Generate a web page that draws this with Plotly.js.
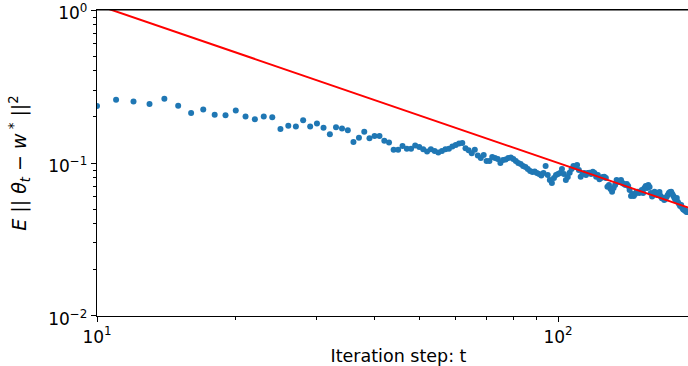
<!DOCTYPE html>
<html>
<head>
<meta charset="utf-8">
<script src="https://cdn.plot.ly/plotly-3.0.1.min.js"></script>
<style>
  html, body { margin: 0; padding: 0; overflow: hidden; background: #fff; width: 688px; height: 366px; }
  #chart { width: 700px; height: 366px; }
</style>
</head>
<body>
<div id="chart"></div>
<script>
// Iteration steps
const steps = [];
for (let t = 10; t <= 192; t++) steps.push(t);

// E||theta_t - w*||^2, one value per step t = 10..192
const errorValues = [
  0.236, 0.259, 0.252, 0.243, 0.263, 0.237, 0.212, 0.224, 0.207, 0.205,   // 10-19
  0.220, 0.201, 0.193, 0.201, 0.199, 0.167, 0.175, 0.173, 0.190, 0.173,   // 20-29
  0.181, 0.170, 0.154, 0.171, 0.168, 0.164, 0.137, 0.146, 0.160, 0.145,   // 30-39
  0.150, 0.150, 0.140, 0.136, 0.122, 0.122, 0.129, 0.124, 0.124, 0.130,   // 40-49
  0.127, 0.123, 0.119, 0.123, 0.120, 0.117, 0.120, 0.123, 0.124, 0.128,   // 50-59
  0.131, 0.134, 0.135, 0.125, 0.121, 0.116, 0.122, 0.112, 0.108, 0.113,   // 60-69
  0.103, 0.1031, 0.1094, 0.1078, 0.1062, 0.1000, 0.1046, 0.1054, 0.1078, 0.1086, // 70-79
  0.1062, 0.1031, 0.1000, 0.0985, 0.0956, 0.0942, 0.0914, 0.0886, 0.0873, 0.0880, // 80-89
  0.0860, 0.0847, 0.0829, 0.0860, 0.0956, 0.0835, 0.0774, 0.0740, 0.0798, 0.0835, // 90-99
  0.0847, 0.0860, 0.0914, 0.0847, 0.0774, 0.0810, 0.0864, 0.0914, 0.0956, 0.0942, // 100-109
  0.0970, 0.0900, 0.0813, 0.0847, 0.0860, 0.0835, 0.0860, 0.0864, 0.0847, 0.0877, // 110-119
  0.0860, 0.0813, 0.0835, 0.0783, 0.0798, 0.0810, 0.0813, 0.0798, 0.0700, 0.0718, // 120-129
  0.0676, 0.0649, 0.0686, 0.0718, 0.0774, 0.0751, 0.0763, 0.0774, 0.0740, 0.0729, // 130-139
  0.0718, 0.0729, 0.0707, 0.0666, 0.0609, 0.0627, 0.0609, 0.0627, 0.0646, 0.0649, // 140-149
  0.0637, 0.0649, 0.0666, 0.0637, 0.0686, 0.0707, 0.0686, 0.0718, 0.0697, 0.0637, // 150-159
  0.0603, 0.0627, 0.0649, 0.0637, 0.0618, 0.0634, 0.0646, 0.0609, 0.0588, 0.0590, // 160-169
  0.0573, 0.0582, 0.0599, 0.0618, 0.0637, 0.0646, 0.0649, 0.0627, 0.0609, 0.0588, // 170-179
  0.0573, 0.0590, 0.0556, 0.0540, 0.0524, 0.0531, 0.0508, 0.0497, 0.0493, 0.0486, // 180-189
  0.0478, 0.0478, 0.0486                                                       // 190-192
];

// Reference rate line (red), two end points
const refT = [10, 200];
const refY = [1.08, 0.0489];

// Tick values and labels
const xTickVals = [10, 100];
const xTickText = ['10<sup>1</sup>', '10<sup>2</sup>'];
const xMinorVals = [20, 30, 40, 50, 60, 70, 80, 90, 200];
const yTickVals = [0.01, 0.1, 1];
const yTickText = ['10<sup>−2</sup>', '10<sup>−1</sup>', '10<sup>0</sup>'];
const yMinorVals = [0.02, 0.03, 0.04, 0.05, 0.06, 0.07, 0.08, 0.09, 0.2, 0.3, 0.4, 0.5, 0.6, 0.7, 0.8, 0.9];

const font = { family: 'DejaVu Sans, sans-serif', color: '#000' };

const traces = [
  {
    x: steps, y: errorValues, type: 'scatter', mode: 'markers',
    marker: { color: '#1f77b4', size: 6 },
    hoverinfo: 'skip', showlegend: false
  },
  {
    x: refT, y: refY, type: 'scatter', mode: 'lines',
    line: { color: '#ff0000', width: 2 },
    hoverinfo: 'skip', showlegend: false
  }
];

const layout = {
  width: 700, height: 366,
  margin: { l: 97, r: 0, t: 10, b: 50 },
  paper_bgcolor: '#fff', plot_bgcolor: '#fff',
  font: Object.assign({ size: 17 }, font),
  shapes: [
    { type: 'line', xref: 'paper', yref: 'paper', x0: 0, x1: 1, y0: 1, y1: 1, line: { color: '#000', width: 1.2 }, layer: 'above' }
  ],
  xaxis: {
    type: 'log', range: [1, 1 + 603 / 461],
    showgrid: false, zeroline: false,
    showline: true, linecolor: '#000', linewidth: 1.2, mirror: true,
    ticks: 'outside', ticklen: 5, tickwidth: 1, tickcolor: '#000',
    tickmode: 'array', tickvals: xTickVals, ticktext: xTickText,
    tickfont: Object.assign({ size: 17 }, font),
    ticklabeloverflow: 'allow',
    minor: { tickmode: 'array', tickvals: xMinorVals, ticks: 'outside', ticklen: 3, tickwidth: 1, tickcolor: '#000', showgrid: false },
    title: { text: 'Iteration step: t', font: Object.assign({ size: 17.5 }, font), standoff: 6 },
    automargin: false
  },
  yaxis: {
    type: 'log', range: [-2.0002, 0.0002],
    showgrid: false, zeroline: false,
    showline: true, linecolor: '#000', linewidth: 1.2, mirror: true,
    ticks: 'outside', ticklen: 5, tickwidth: 1, tickcolor: '#000',
    tickmode: 'array', tickvals: yTickVals, ticktext: yTickText,
    tickfont: Object.assign({ size: 17 }, font),
    ticklabeloverflow: 'allow',
    ticklabelshift: 3,
    minor: { tickmode: 'array', tickvals: yMinorVals, ticks: 'outside', ticklen: 3, tickwidth: 1, tickcolor: '#000', showgrid: false },
    title: { text: '<i>E</i> || <i>θ</i><sub><i>t</i></sub> − <i>w</i><sup> *</sup> ||<sup>2</sup>', font: Object.assign({ size: 19 }, font), standoff: 16 },
    automargin: false
  }
};

Plotly.newPlot('chart', traces, layout, { staticPlot: true, displayModeBar: false });
</script>
</body>
</html>
